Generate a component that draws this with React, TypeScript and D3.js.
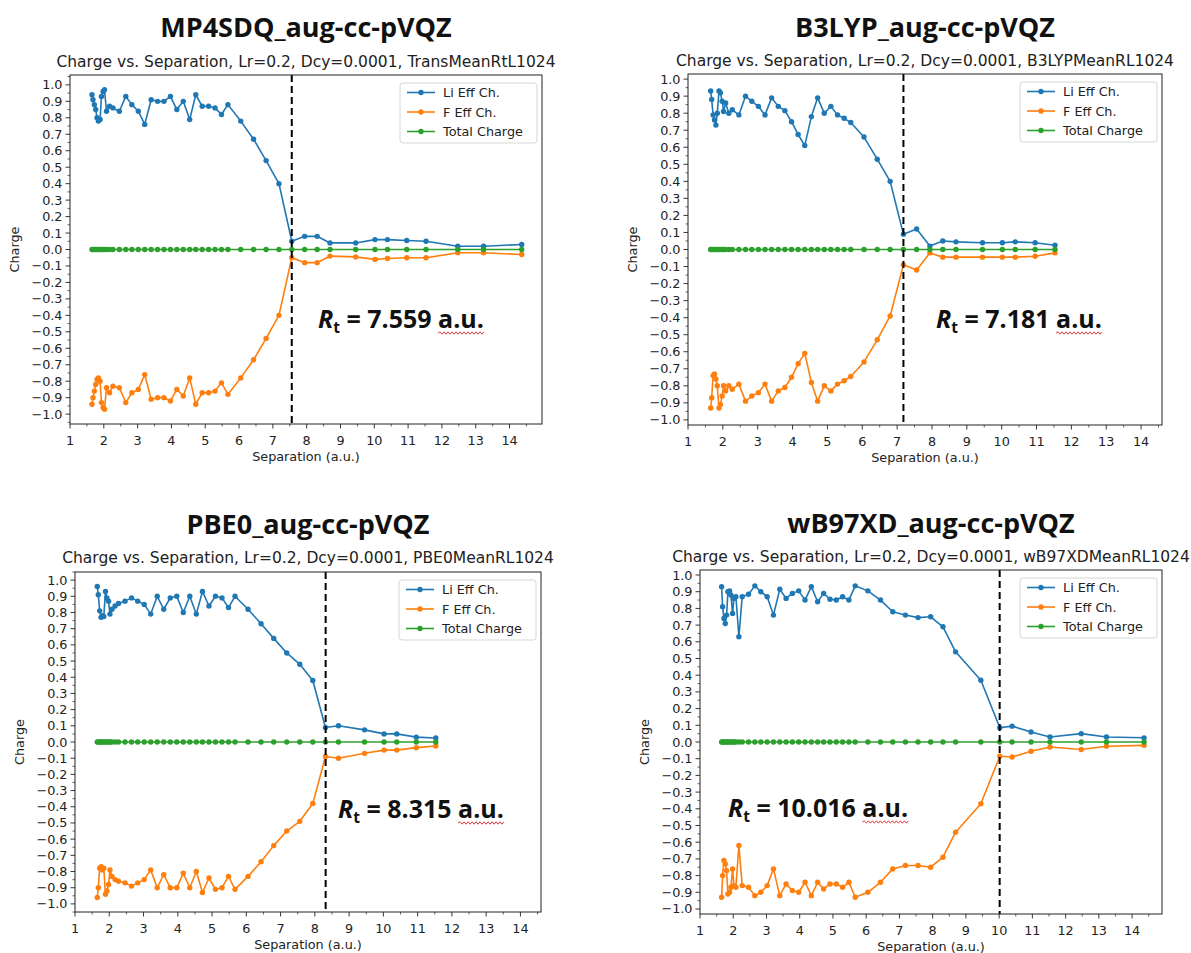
import React, { useLayoutEffect, useRef, useState } from 'react';
import * as d3 from 'd3';

// ---------- DATA ----------
const xLong = [1.65, 1.68, 1.72, 1.76, 1.80, 1.84, 1.89, 1.93, 1.98, 2.02, 2.08, 2.17, 2.27,
  2.46, 2.65, 2.83, 3.02, 3.21, 3.40, 3.59, 3.78, 3.97, 4.16, 4.35, 4.54, 4.72, 4.91, 5.10, 5.29, 5.48, 5.67,
  6.05, 6.43, 6.80, 7.18, 7.56, 7.94, 8.31, 8.69,
  9.45, 10.02, 10.39, 10.96, 11.53,
  12.47, 13.23, 14.36];
const xShort = [1.65, 1.68, 1.72, 1.76, 1.80, 1.84, 1.89, 1.93, 1.98, 2.02, 2.08, 2.17, 2.27,
  2.46, 2.65, 2.83, 3.02, 3.21, 3.40, 3.59, 3.78, 3.97, 4.16, 4.35, 4.54, 4.72, 4.91, 5.10, 5.29, 5.48, 5.67,
  6.05, 6.43, 6.80, 7.18, 7.56, 7.94, 8.31, 8.69,
  9.45, 10.02, 10.39, 10.96, 11.53];

// MP4SDQ
const liMP4 = [0.94, 0.91, 0.88, 0.85, 0.80, 0.78, 0.79, 0.93, 0.96, 0.97, 0.84, 0.87, 0.86,
  0.84, 0.93, 0.88, 0.84, 0.76, 0.91, 0.90, 0.90, 0.93, 0.85, 0.90, 0.79, 0.94, 0.87, 0.87, 0.86, 0.82, 0.88,
  0.78, 0.67, 0.54, 0.40, 0.05, 0.08, 0.08, 0.04,
  0.04, 0.06, 0.06, 0.055, 0.05,
  0.02, 0.02, 0.03];
const fMP4 = [-0.94, -0.90, -0.86, -0.82, -0.79, -0.78, -0.80, -0.93, -0.96, -0.97, -0.84, -0.87, -0.83,
  -0.84, -0.93, -0.87, -0.85, -0.76, -0.91, -0.90, -0.90, -0.92, -0.85, -0.89, -0.78, -0.94, -0.87, -0.87, -0.86, -0.81, -0.88,
  -0.78, -0.67, -0.54, -0.40, -0.05, -0.08, -0.08, -0.04,
  -0.045, -0.06, -0.055, -0.05, -0.05,
  -0.02, -0.02, -0.03];
const totMP4 = [0, 0, 0, 0, 0, 0, 0, 0, 0, 0, 0, 0, 0,
  0, 0, 0, 0, 0, 0, 0, 0, 0, 0, 0, 0, 0, 0, 0, 0, 0, 0,
  0, 0, 0, 0, 0, 0, 0, 0,
  0, 0, 0, 0, 0,
  0, 0, 0];

// B3LYP
const liB3 = [0.93, 0.88, 0.79, 0.76, 0.73, 0.80, 0.93, 0.92, 0.87, 0.81, 0.86, 0.80, 0.82,
  0.79, 0.90, 0.87, 0.84, 0.79, 0.89, 0.84, 0.815, 0.75, 0.675, 0.61, 0.78, 0.89, 0.80, 0.84, 0.79, 0.77, 0.745,
  0.66, 0.53, 0.40, 0.09, 0.12, 0.02, 0.05, 0.045,
  0.04, 0.04, 0.045, 0.04, 0.025];
const fB3 = [-0.93, -0.87, -0.74, -0.73, -0.76, -0.80, -0.93, -0.91, -0.86, -0.80, -0.83, -0.80, -0.82,
  -0.79, -0.89, -0.86, -0.84, -0.79, -0.89, -0.83, -0.81, -0.75, -0.67, -0.61, -0.78, -0.89, -0.80, -0.83, -0.79, -0.77, -0.745,
  -0.66, -0.53, -0.39, -0.09, -0.12, -0.02, -0.045, -0.045,
  -0.045, -0.045, -0.045, -0.04, -0.02];
const totB3 = [0, 0, 0, 0, 0, 0, 0, 0, 0, 0, 0, 0, 0,
  0, 0, 0, 0, 0, 0, 0, 0, 0, 0, 0, 0, 0, 0, 0, 0, 0, 0,
  0, 0, 0, 0, 0, 0, 0, 0,
  0, 0, 0, 0, 0];

// PBE0
const liPBE = [0.96, 0.91, 0.81, 0.77, 0.78, 0.775, 0.93, 0.89, 0.87, 0.79, 0.82, 0.84, 0.855,
  0.87, 0.89, 0.87, 0.85, 0.79, 0.90, 0.82, 0.89, 0.90, 0.80, 0.90, 0.79, 0.93, 0.84, 0.90, 0.89, 0.83, 0.90,
  0.82, 0.73, 0.64, 0.55, 0.48, 0.38, 0.09, 0.10,
  0.075, 0.05, 0.05, 0.03, 0.025];
const fPBE = [-0.96, -0.90, -0.78, -0.77, -0.79, -0.78, -0.94, -0.92, -0.88, -0.79, -0.83, -0.85, -0.86,
  -0.87, -0.89, -0.87, -0.85, -0.79, -0.90, -0.82, -0.90, -0.90, -0.81, -0.90, -0.80, -0.93, -0.84, -0.91, -0.90, -0.83, -0.91,
  -0.83, -0.74, -0.64, -0.55, -0.49, -0.38, -0.09, -0.10,
  -0.07, -0.05, -0.05, -0.035, -0.025];
const totPBE = [0, 0, 0, 0, 0, 0, 0, 0, 0, 0, 0, 0, 0,
  0, 0, 0, 0, 0, 0, 0, 0, 0, 0, 0, 0, 0, 0, 0, 0, 0, 0,
  0, 0, 0, 0, 0, 0, 0, 0,
  0, 0, 0, 0, 0];

// wB97XD
const liWB = [0.93, 0.81, 0.74, 0.71, 0.76, 0.90, 0.905, 0.88, 0.77, 0.86, 0.87, 0.63, 0.87,
  0.885, 0.935, 0.90, 0.87, 0.76, 0.915, 0.86, 0.89, 0.905, 0.85, 0.93, 0.84, 0.89, 0.855, 0.85, 0.87, 0.85, 0.935,
  0.905, 0.85, 0.78, 0.76, 0.745, 0.75, 0.69, 0.54,
  0.37, 0.085, 0.095, 0.06, 0.03,
  0.05, 0.03, 0.025];
const fWB = [-0.93, -0.80, -0.71, -0.73, -0.77, -0.91, -0.90, -0.87, -0.76, -0.86, -0.87, -0.62, -0.86,
  -0.87, -0.92, -0.90, -0.86, -0.76, -0.92, -0.85, -0.89, -0.90, -0.84, -0.92, -0.84, -0.88, -0.85, -0.85, -0.87, -0.84, -0.93,
  -0.90, -0.84, -0.76, -0.74, -0.74, -0.75, -0.69, -0.54,
  -0.37, -0.085, -0.09, -0.055, -0.03,
  -0.045, -0.025, -0.02];
const totWB = [0, 0, 0, 0, 0, 0, 0, 0, 0, 0, 0, 0, 0,
  0, 0, 0, 0, 0, 0, 0, 0, 0, 0, 0, 0, 0, 0, 0, 0, 0, 0,
  0, 0, 0, 0, 0, 0, 0, 0,
  0, 0, 0, 0, 0,
  0, 0, 0];

const titles = ['MP4SDQ_aug-cc-pVQZ', 'B3LYP_aug-cc-pVQZ', 'PBE0_aug-cc-pVQZ', 'wB97XD_aug-cc-pVQZ'];
const subtitles = [
  'Charge vs. Separation, Lr=0.2, Dcy=0.0001, TransMeanRtL1024',
  'Charge vs. Separation, Lr=0.2, Dcy=0.0001, B3LYPMeanRL1024',
  'Charge vs. Separation, Lr=0.2, Dcy=0.0001, PBE0MeanRL1024',
  'Charge vs. Separation, Lr=0.2, Dcy=0.0001, wB97XDMeanRL1024',
];
const rtValues = [7.559, 7.181, 8.315, 10.016];
const rtLabels = ['7.559', '7.181', '8.315', '10.016'];
const xTickValues = [1, 2, 3, 4, 5, 6, 7, 8, 9, 10, 11, 12, 13, 14];
const yTickValues = [-1.0, -0.9, -0.8, -0.7, -0.6, -0.5, -0.4, -0.3, -0.2, -0.1, 0.0,
  0.1, 0.2, 0.3, 0.4, 0.5, 0.6, 0.7, 0.8, 0.9, 1.0];
const legendLabels = ['Li Eff Ch.', 'F Eff Ch.', 'Total Charge'];

// ---------- LAYOUT / STYLE ----------
const COLORS = ['#1f77b4', '#ff7f0e', '#2ca02c'];
const SMALL = 12.8;
const MPL_FONT = '"DejaVu Sans", sans-serif';
const TITLE_FONT = '"Open Sans", "Lato", sans-serif';

const layouts = [
  { l: 70, r: 542, t: 75, b: 424, xDom: [1, 14.96], yDom: [-1.06, 1.06], titleY: 37, subY: 67, rtX: 318, rtY: 328 },
  { l: 688, r: 1162, t: 74, b: 425, xDom: [1, 14.6], yDom: [-1.03, 1.03], titleY: 37, subY: 66, rtX: 936, rtY: 328 },
  { l: 75, r: 541, t: 572, b: 912, xDom: [1, 14.6], yDom: [-1.05, 1.05], titleY: 534, subY: 563, rtX: 338, rtY: 818 },
  { l: 700, r: 1162, t: 570, b: 914, xDom: [1, 14.9], yDom: [-1.03, 1.03], titleY: 533, subY: 562, rtX: 728, rtY: 817 },
];

const panelData = [
  { x: xLong, series: [liMP4, fMP4, totMP4] },
  { x: xShort, series: [liB3, fB3, totB3] },
  { x: xShort, series: [liPBE, fPBE, totPBE] },
  { x: xLong, series: [liWB, fWB, totWB] },
];

const fmtY = (v: number) => {
  const s = Math.abs(v).toFixed(1);
  return v < -1e-9 ? '\u2212' + s : s;
};

function RtLabel({ x, y, label }: { x: number; y: number; label: string }) {
  const ref = useRef<SVGTSpanElement>(null);
  const [sq, setSq] = useState<[number, number] | null>(null);
  useLayoutEffect(() => {
    const el = ref.current as any;
    if (!el) return;
    try {
      const n = el.getNumberOfChars();
      const a = el.getStartPositionOfChar(0).x;
      const b = el.getEndPositionOfChar(n - 1).x;
      setSq([a, b]);
    } catch (e) {
      /* ignore */
    }
  }, [label]);
  let path = '';
  if (sq) {
    const yb = y + 5;
    path = `M${sq[0]},${yb}`;
    let i = 0;
    for (let xx = sq[0]; xx < sq[1]; xx += 2, i++) {
      path += ` L${Math.min(xx + 2, sq[1])},${yb + (i % 2 === 0 ? -1.2 : 1.2)}`;
    }
  }
  return (
    <g>
      <text x={x} y={y} fontFamily={TITLE_FONT} fontWeight={700} fontSize={25} fill="#111">
        <tspan fontStyle="italic">R</tspan>
        <tspan fontSize={15.5} dy={5}>t</tspan>
        <tspan dy={-5}>{` = ${label} `}</tspan>
        <tspan ref={ref}>a.u.</tspan>
      </text>
      {path && <path d={path} fill="none" stroke="#e03a3a" strokeWidth={1} />}
    </g>
  );
}

function Panel({ idx }: { idx: number }) {
  const L = layouts[idx];
  const D = panelData[idx];
  const xs = d3.scaleLinear().domain(L.xDom).range([L.l, L.r]);
  const ys = d3.scaleLinear().domain(L.yDom).range([L.b, L.t]);
  const cx = (L.l + L.r) / 2;
  const cy = (L.t + L.b) / 2;
  const line = d3
    .line<number>()
    .x((_, i) => xs(D.x[i]))
    .y((d) => ys(d));
  const xMinor = d3.range(1.5, L.xDom[1], 1);
  const yMinor = d3.range(-1.05, 1.06, 0.1).filter((v) => v >= L.yDom[0] && v <= L.yDom[1]);
  const clipId = `clip${idx}`;
  const legW = 137;
  const legX = L.r - 5 - legW;
  const legY = L.t + 8;
  const axisCol = '#222';
  return (
    <g>
      <defs>
        <clipPath id={clipId}>
          <rect x={L.l} y={L.t} width={L.r - L.l} height={L.b - L.t} />
        </clipPath>
      </defs>
      <text x={cx} y={L.titleY} textAnchor="middle" fontFamily={TITLE_FONT} fontWeight={700} fontSize={27} fill="#111">
        {titles[idx]}
      </text>
      <text x={cx} y={L.subY} textAnchor="middle" fontFamily={MPL_FONT} fontSize={15.5} fill={axisCol}>
        {subtitles[idx]}
      </text>
      {/* data */}
      <g clipPath={`url(#${clipId})`}>
        {D.series.map((s, si) => (
          <g key={si}>
            <path d={line(s) || ''} fill="none" stroke={COLORS[si]} strokeWidth={1.6} strokeLinejoin="round" />
            {s.map((v, i) => (
              <circle key={i} cx={xs(D.x[i])} cy={ys(v)} r={2.7} fill={COLORS[si]} />
            ))}
          </g>
        ))}
        <line
          x1={xs(rtValues[idx])}
          x2={xs(rtValues[idx])}
          y1={L.t}
          y2={L.b}
          stroke="#000"
          strokeWidth={2}
          strokeDasharray="7,4"
        />
      </g>
      {/* frame */}
      <rect x={L.l} y={L.t} width={L.r - L.l} height={L.b - L.t} fill="none" stroke={axisCol} strokeWidth={1} />
      {/* x ticks */}
      {xTickValues.map((v) => (
        <g key={'xt' + v}>
          <line x1={xs(v)} x2={xs(v)} y1={L.b} y2={L.b + 4.5} stroke={axisCol} strokeWidth={0.9} />
          <text x={xs(v)} y={L.b + 21} textAnchor="middle" fontFamily={MPL_FONT} fontSize={SMALL} fill={axisCol}>
            {v}
          </text>
        </g>
      ))}
      {xMinor.map((v) => (
        <line key={'xm' + v} x1={xs(v)} x2={xs(v)} y1={L.b} y2={L.b + 2.5} stroke={axisCol} strokeWidth={0.7} />
      ))}
      {/* y ticks */}
      {yTickValues.map((v) => (
        <g key={'yt' + v}>
          <line x1={L.l - 4.5} x2={L.l} y1={ys(v)} y2={ys(v)} stroke={axisCol} strokeWidth={0.9} />
          <text x={L.l - 7.5} y={ys(v) + 4.5} textAnchor="end" fontFamily={MPL_FONT} fontSize={SMALL} fill={axisCol}>
            {fmtY(v)}
          </text>
        </g>
      ))}
      {yMinor.map((v, i) => (
        <line key={'ym' + i} x1={L.l - 2.5} x2={L.l} y1={ys(v)} y2={ys(v)} stroke={axisCol} strokeWidth={0.7} />
      ))}
      {/* axis labels */}
      <text x={cx} y={L.b + 37} textAnchor="middle" fontFamily={MPL_FONT} fontSize={SMALL} fill={axisCol}>
        Separation (a.u.)
      </text>
      <text
        transform={`translate(${L.l - 51},${cy}) rotate(-90)`}
        textAnchor="middle"
        fontFamily={MPL_FONT}
        fontSize={SMALL}
        fill={axisCol}
      >
        Charge
      </text>
      {/* legend */}
      <g>
        <rect x={legX} y={legY} width={legW} height={60} rx={3} fill="#fff" fillOpacity={0.85} stroke="#d6d6d6" strokeWidth={1} />
        {legendLabels.map((lab, i) => {
          const yy = legY + 9.5 + i * 19.5;
          return (
            <g key={lab}>
              <line x1={legX + 7} x2={legX + 35} y1={yy} y2={yy} stroke={COLORS[i]} strokeWidth={1.6} />
              <circle cx={legX + 21} cy={yy} r={2.7} fill={COLORS[i]} />
              <text x={legX + 43} y={yy + 4.5} fontFamily={MPL_FONT} fontSize={SMALL} fill={axisCol}>
                {lab}
              </text>
            </g>
          );
        })}
      </g>
      <RtLabel x={L.rtX} y={L.rtY} label={rtLabels[idx]} />
    </g>
  );
}

export default function App() {
  return (
    <svg
      width={1191}
      height={953}
      viewBox="0 0 1191 953"
      style={{ position: 'absolute', left: 0, top: 0, background: '#fff' }}
    >
      <rect x={0} y={0} width={1191} height={953} fill="#fff" />
      {[0, 1, 2, 3].map((i) => (
        <Panel key={i} idx={i} />
      ))}
    </svg>
  );
}
